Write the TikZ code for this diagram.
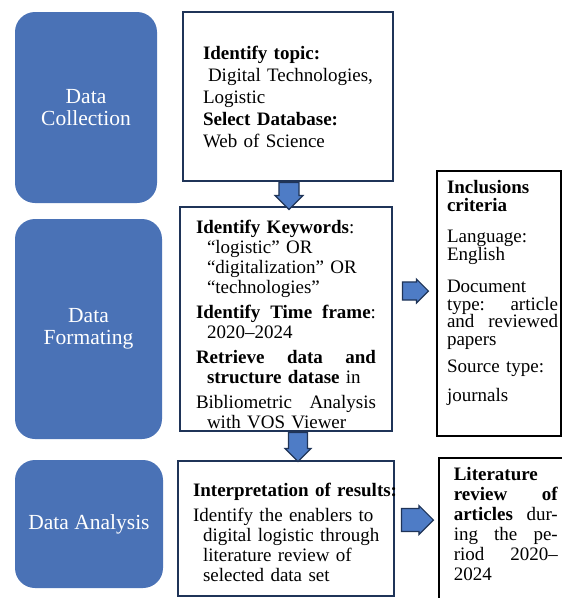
\documentclass[tikz,border=0pt]{standalone}
\usepackage{fontspec}
\setmainfont{Liberation Serif}
\usetikzlibrary{shapes.arrows}
\definecolor{stageblue}{HTML}{4A72B6}
\definecolor{framenavy}{HTML}{1F3458}
\definecolor{arrowblue}{HTML}{4E7CC6}
\newcommand\justline[2]{\makebox[#1][s]{\spaceskip=.25em plus 1fil\xspaceskip=\spaceskip\relax#2}}

\begin{document}
\begin{tikzpicture}[x=1pt,y=-1pt,
  stage/.style={fill=stageblue,rounded corners=20pt,text=white,align=center,
    font=\fontsize{21.5}{22}\selectfont},
  frame/.style={draw=framenavy,line width=1.6pt,fill=white,inner xsep=0pt,inner ysep=0pt,
    align=left,font=\fontsize{19}{20}\selectfont},
  side/.style={draw=black,line width=1.6pt,fill=white,inner xsep=0pt,inner ysep=0pt,
    align=left,font=\fontsize{19}{20}\selectfont},
  blockarrow/.style={single arrow,draw=framenavy,fill=arrowblue,line width=1.2pt,
    single arrow head extend=2pt,anchor=tail}]
  \clip (0,0) rectangle (562,598);
  \node[stage,minimum width=142,minimum height=191] (collect) at (86,107.5) {Data\\Collection};
  \node[stage,minimum width=147,minimum height=220] (format) at (88.5,329) {Data\\Formating};
  \node[stage,minimum width=148,minimum height=128] (analysis) at (89,524) {Data Analysis};
  \node[frame,minimum width=210,minimum height=169,text width=170,
    font=\fontsize{19}{22}\selectfont] (topic) at (288,96.5)
    {\textbf{Identify topic:}\\
     \hspace*{5pt}Digital Technologies,\\
     Logistic\\
     \textbf{Select Database:}\\
     Web of Science};
  \node[frame,minimum width=212,minimum height=224,text width=180] (keywords) at (286,319)
    {\rule{0pt}{25pt}\textbf{Identify Keywords}:\\
     \hspace*{11pt}“logistic” OR\\
     \hspace*{11pt}“digitalization” OR\\
     \hspace*{11pt}“technologies”\\[5pt]
     \justline{180pt}{\textbf{Identify Time frame}:}\\
     \hspace*{11pt}2020--2024\\[5pt]
     \justline{180pt}{\textbf{Retrieve data and}}\\
     \hspace*{11pt}\textbf{structure datase} in\\[5pt]
     \justline{180pt}{Bibliometric Analysis}\\
     \hspace*{11pt}with VOS Viewer};
  \node[frame,minimum width=216,minimum height=135,text width=186] (interpret) at (286,528.5)
    {\rule{0pt}{21pt}\mbox{\textbf{Interpretation of results:}}\\[5pt]
     \mbox{Identify the enablers to}\\
     \hspace*{10pt}\mbox{digital logistic through}\\
     \hspace*{10pt}\mbox{literature review of}\\
     \hspace*{10pt}\mbox{selected data set}};
  \node[side,minimum width=124,minimum height=265,text width=104,
    font=\fontsize{19}{17.5}\selectfont] (criteria) at (499,303.5)
    {\textbf{Inclusions}\\
     \textbf{criteria}\\[14pt]
     Language:\\
     English\\[15pt]
     Document\\
     \justline{111pt}{type: article}\\
     \justline{111pt}{and reviewed}\\
     papers\\[10pt]
     Source type:\\[11pt]
     journals\rule[-25pt]{0pt}{25pt}};
  \node[side,anchor=north west,minimum width=150,text width=120,inner ysep=9.5pt] (review) at (438,457)
    {\textbf{Literature}\\
     \justline{104pt}{\textbf{review of}}\\
     \justline{104pt}{\textbf{articles} dur-}\\
     \justline{104pt}{ing the pe-}\\
     \justline{104pt}{riod 2020--}\\
     2024\rule[-40pt]{0pt}{40pt}};
  \node[blockarrow,shape border rotate=270,minimum width=28,minimum height=27,inner sep=4.5pt]
    (down1) at ([xshift=1pt]topic.south) {};
  \node[blockarrow,shape border rotate=270,minimum width=26,minimum height=29,inner sep=5pt]
    (down2) at ([xshift=12pt]keywords.south) {};
  \node[blockarrow,minimum width=24,minimum height=26,inner sep=5.5pt]
    (right1) at ([xshift=9pt,yshift=28pt]keywords.east) {};
  \node[blockarrow,minimum width=29,minimum height=32,inner sep=7pt]
    (right2) at ([xshift=6pt,yshift=8.5pt]interpret.east) {};
\end{tikzpicture}
\end{document}
